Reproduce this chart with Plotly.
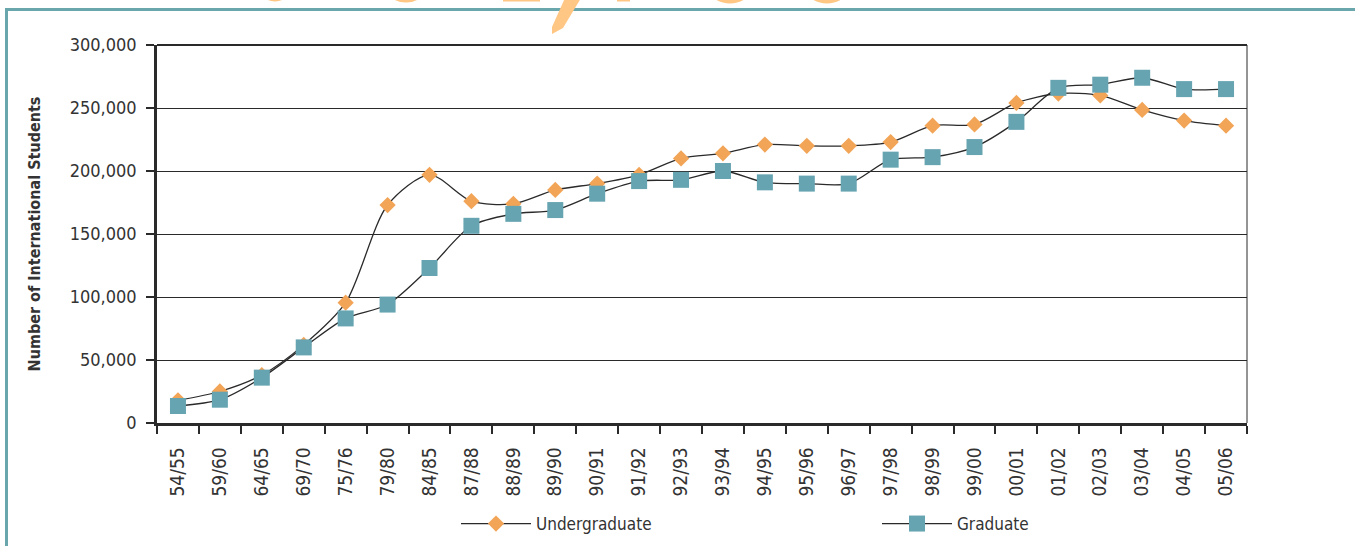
import plotly.graph_objects as go

years = ["54/55", "59/60", "64/65", "69/70", "75/76", "79/80", "84/85", "87/88", "88/89",
         "89/90", "90/91", "91/92", "92/93", "93/94", "94/95", "95/96", "96/97", "97/98",
         "98/99", "99/00", "00/01", "01/02", "02/03", "03/04", "04/05", "05/06"]
undergraduate = [18000, 25000, 38000, 62000, 95500, 173000, 197000, 176000, 174000,
                 185000, 190000, 197000, 210000, 214000, 221000, 220000, 220000, 223000,
                 236000, 237000, 254000, 261500, 260000, 248500, 240000, 236000]
graduate = [13500, 18500, 36000, 60000, 83000, 94000, 123000, 156500, 166000,
            169000, 182000, 192000, 193000, 200000, 191000, 190000, 190000, 209000,
            211000, 219000, 239000, 266000, 268500, 274000, 265000, 265000]
y_ticks = [0, 50000, 100000, 150000, 200000, 250000, 300000]

W, H = 1355, 546
ML, MR, MT, MB = 157, 108, 45, 123
PW, PH = W - ML - MR, H - MT - MB

FONT = "Liberation Sans Narrow, Arial Narrow, DejaVu Sans Condensed, sans-serif"
TXT = "#333333"
ORANGE = "#F2A457"
TEAL = "#66A4B1"
LINE = "#2a2a2a"


def px(x):
    return (x - ML) / PW


def py(y):
    return (H - MB - y) / PH


fig = go.Figure()
fig.add_trace(go.Scatter(
    x=years, y=undergraduate, name="Undergraduate", mode="lines+markers",
    line=dict(color=LINE, width=1.3, shape="spline", smoothing=0.8),
    marker=dict(symbol="diamond", size=12.5, color=ORANGE),
))
fig.add_trace(go.Scatter(
    x=years, y=graduate, name="Graduate", mode="lines+markers",
    line=dict(color=LINE, width=1.3, shape="spline", smoothing=0.8),
    marker=dict(symbol="square", size=16, color=TEAL),
))

shapes = []
# plot frame: thin right border, thick top line
shapes.append(dict(type="line", xref="paper", yref="paper", x0=1, x1=1, y0=0, y1=1,
                   line=dict(color=LINE, width=1)))
shapes.append(dict(type="line", xref="paper", yref="paper", x0=0, x1=1, y0=1, y1=1,
                   line=dict(color=LINE, width=2)))
# teal outer frame
shapes.append(dict(type="line", xref="paper", yref="paper", x0=px(5), x1=px(1360),
                   y0=py(9.5), y1=py(9.5), line=dict(color="#6AA7AC", width=3)))
shapes.append(dict(type="line", xref="paper", yref="paper", x0=px(6.5), x1=px(6.5),
                   y0=py(8), y1=py(550), line=dict(color="#6AA7AC", width=3)))
# orange logo fragments at the top edge
OR2 = "#FFC684"
for (cx, r, bottom) in [(275, 14, 1.5), (406, 22, 2.5), (730, 24, 3.5), (827, 24, 3.5)]:
    shapes.append(dict(type="circle", xref="paper", yref="paper",
                       x0=px(cx - r), x1=px(cx + r), y0=py(bottom - 3), y1=py(bottom - 3 - 2 * r),
                       line=dict(color=OR2, width=6), fillcolor="rgba(0,0,0,0)"))
for (x0, x1) in [(503, 540), (617, 630)]:
    shapes.append(dict(type="rect", xref="paper", yref="paper", x0=px(x0), x1=px(x1),
                       y0=py(1.5), y1=py(-5), line=dict(width=0), fillcolor=OR2))
bolt = [(565, -2), (581, -2), (563, 28), (552, 34), (552, 27)]
path = "M " + " L ".join(f"{px(a)},{py(b)}" for a, b in bolt) + " Z"
shapes.append(dict(type="path", xref="paper", yref="paper", path=path,
                   line=dict(width=0), fillcolor=OR2))

fig.update_layout(
    width=W, height=H,
    margin=dict(l=ML, r=MR, t=MT, b=MB, autoexpand=False),
    paper_bgcolor="white", plot_bgcolor="white",
    font=dict(family=FONT, color=TXT, size=18),
    shapes=shapes,
    showlegend=True,
    legend=dict(orientation="h", x=px(456), xanchor="left", y=py(524), yanchor="middle",
                entrywidth=336, entrywidthmode="pixels",
                font=dict(family=FONT, size=17, color=TXT), itemwidth=70,
                bgcolor="rgba(0,0,0,0)"),
)
fig.update_xaxes(
    type="category", range=[-0.5, len(years) - 0.5],
    showline=True, linecolor=LINE, linewidth=2.5,
    ticks="outside", tickson="boundaries", ticklen=8, tickcolor=LINE, tickwidth=1.5,
    tickangle=-90, ticklabelstandoff=14,
    tickfont=dict(family=FONT, size=19, color=TXT),
    showgrid=False, zeroline=False, automargin=False,
)
fig.update_yaxes(
    range=[0, 300000], tickvals=y_ticks, tickformat=",",
    showline=True, linecolor=LINE, linewidth=2.5,
    ticks="outside", ticklen=8, tickcolor=LINE, tickwidth=1.5, ticklabelstandoff=6,
    tickfont=dict(family=FONT, size=18, color=TXT),
    showgrid=True, gridcolor=LINE, gridwidth=1.2, zeroline=False,
    title=dict(text="<b>Number of International Students</b>", standoff=26,
               font=dict(family=FONT, size=16, color=TXT)),
    automargin=False,
)

fig.write_html("out.html", config={"displayModeBar": False},
               post_script="document.body.style.margin='0px';")
